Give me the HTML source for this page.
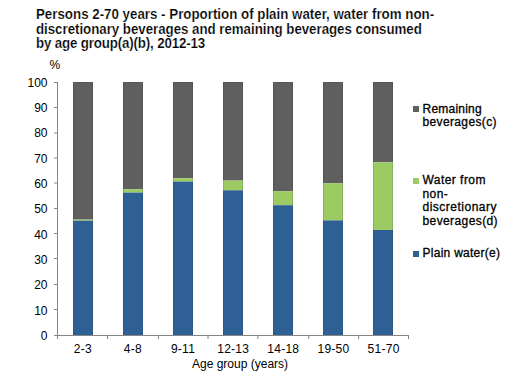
<!DOCTYPE html>
<html><head><meta charset="utf-8"><style>
html,body{margin:0;padding:0;background:#fff;width:507px;height:376px;overflow:hidden}
svg{display:block}
text{font-family:"Liberation Sans",sans-serif;font-size:12px;fill:#000}
.tt{font-weight:bold;font-size:13.33px;stroke:#fff;stroke-width:0.2px}
.lg{stroke:#000;stroke-width:0.3px}
.xl{letter-spacing:0.25px}
</style></head><body>
<svg width="507" height="376" viewBox="0 0 507 376">
<rect x="73" y="82.0" width="20" height="137.60" fill="#5f5f5f"/>
<rect x="73" y="219.6" width="20" height="1.10" fill="#9bcb62"/>
<rect x="73" y="220.7" width="20" height="114.80" fill="#2e6096"/>
<rect x="73" y="82.0" width="1" height="253.00" fill="#000" opacity="0.1"/>
<rect x="92" y="82.0" width="1" height="253.00" fill="#000" opacity="0.1"/>
<rect x="74" y="82.0" width="18" height="1" fill="#000" opacity="0.1"/>
<rect x="123" y="82.0" width="20" height="107.20" fill="#5f5f5f"/>
<rect x="123" y="189.2" width="20" height="3.40" fill="#9bcb62"/>
<rect x="123" y="192.6" width="20" height="142.90" fill="#2e6096"/>
<rect x="123" y="82.0" width="1" height="253.00" fill="#000" opacity="0.1"/>
<rect x="142" y="82.0" width="1" height="253.00" fill="#000" opacity="0.1"/>
<rect x="124" y="82.0" width="18" height="1" fill="#000" opacity="0.1"/>
<rect x="173" y="82.0" width="20" height="96.20" fill="#5f5f5f"/>
<rect x="173" y="178.2" width="20" height="3.40" fill="#9bcb62"/>
<rect x="173" y="181.6" width="20" height="153.90" fill="#2e6096"/>
<rect x="173" y="82.0" width="1" height="253.00" fill="#000" opacity="0.1"/>
<rect x="192" y="82.0" width="1" height="253.00" fill="#000" opacity="0.1"/>
<rect x="174" y="82.0" width="18" height="1" fill="#000" opacity="0.1"/>
<rect x="223" y="82.0" width="20" height="98.60" fill="#5f5f5f"/>
<rect x="223" y="180.6" width="20" height="9.70" fill="#9bcb62"/>
<rect x="223" y="190.3" width="20" height="145.20" fill="#2e6096"/>
<rect x="223" y="82.0" width="1" height="253.00" fill="#000" opacity="0.1"/>
<rect x="242" y="82.0" width="1" height="253.00" fill="#000" opacity="0.1"/>
<rect x="224" y="82.0" width="18" height="1" fill="#000" opacity="0.1"/>
<rect x="273" y="82.0" width="20" height="109.30" fill="#5f5f5f"/>
<rect x="273" y="191.3" width="20" height="13.90" fill="#9bcb62"/>
<rect x="273" y="205.2" width="20" height="130.30" fill="#2e6096"/>
<rect x="273" y="82.0" width="1" height="253.00" fill="#000" opacity="0.1"/>
<rect x="292" y="82.0" width="1" height="253.00" fill="#000" opacity="0.1"/>
<rect x="274" y="82.0" width="18" height="1" fill="#000" opacity="0.1"/>
<rect x="323" y="82.0" width="20" height="101.30" fill="#5f5f5f"/>
<rect x="323" y="183.3" width="20" height="37.10" fill="#9bcb62"/>
<rect x="323" y="220.4" width="20" height="115.10" fill="#2e6096"/>
<rect x="323" y="82.0" width="1" height="253.00" fill="#000" opacity="0.1"/>
<rect x="342" y="82.0" width="1" height="253.00" fill="#000" opacity="0.1"/>
<rect x="324" y="82.0" width="18" height="1" fill="#000" opacity="0.1"/>
<rect x="373" y="82.0" width="20" height="80.20" fill="#5f5f5f"/>
<rect x="373" y="162.2" width="20" height="67.80" fill="#9bcb62"/>
<rect x="373" y="230.0" width="20" height="105.50" fill="#2e6096"/>
<rect x="373" y="82.0" width="1" height="253.00" fill="#000" opacity="0.1"/>
<rect x="392" y="82.0" width="1" height="253.00" fill="#000" opacity="0.1"/>
<rect x="374" y="82.0" width="18" height="1" fill="#000" opacity="0.1"/>
<line x1="57.5" y1="82" x2="57.5" y2="339" stroke="#868686" stroke-width="1"/>
<line x1="54" y1="335.5" x2="408" y2="335.5" stroke="#868686" stroke-width="1"/>
<line x1="54" y1="335.5" x2="57" y2="335.5" stroke="#868686" stroke-width="1"/>
<line x1="54" y1="309.5" x2="57" y2="309.5" stroke="#868686" stroke-width="1"/>
<line x1="54" y1="284.5" x2="57" y2="284.5" stroke="#868686" stroke-width="1"/>
<line x1="54" y1="258.5" x2="57" y2="258.5" stroke="#868686" stroke-width="1"/>
<line x1="54" y1="233.5" x2="57" y2="233.5" stroke="#868686" stroke-width="1"/>
<line x1="54" y1="208.5" x2="57" y2="208.5" stroke="#868686" stroke-width="1"/>
<line x1="54" y1="183" x2="57" y2="183" stroke="#868686" stroke-width="1"/>
<line x1="54" y1="158" x2="57" y2="158" stroke="#868686" stroke-width="1"/>
<line x1="54" y1="133" x2="57" y2="133" stroke="#868686" stroke-width="1"/>
<line x1="54" y1="107.5" x2="57" y2="107.5" stroke="#868686" stroke-width="1"/>
<line x1="54" y1="82.5" x2="57" y2="82.5" stroke="#868686" stroke-width="1"/>
<line x1="57.5" y1="335" x2="57.5" y2="339" stroke="#868686" stroke-width="1"/>
<line x1="107.5" y1="335" x2="107.5" y2="339" stroke="#868686" stroke-width="1"/>
<line x1="158.4" y1="335" x2="158.4" y2="339" stroke="#868686" stroke-width="1"/>
<line x1="208" y1="335" x2="208" y2="339" stroke="#868686" stroke-width="1"/>
<line x1="257.9" y1="335" x2="257.9" y2="339" stroke="#868686" stroke-width="1"/>
<line x1="308.8" y1="335" x2="308.8" y2="339" stroke="#868686" stroke-width="1"/>
<line x1="358.6" y1="335" x2="358.6" y2="339" stroke="#868686" stroke-width="1"/>
<line x1="408.5" y1="335" x2="408.5" y2="339" stroke="#868686" stroke-width="1"/>
<text x="47.5" y="339.8" text-anchor="end">0</text>
<text x="47.5" y="314.5" text-anchor="end">10</text>
<text x="47.5" y="289.2" text-anchor="end">20</text>
<text x="47.5" y="263.9" text-anchor="end">30</text>
<text x="47.5" y="238.6" text-anchor="end">40</text>
<text x="47.5" y="213.3" text-anchor="end">50</text>
<text x="47.5" y="188.0" text-anchor="end">60</text>
<text x="47.5" y="162.7" text-anchor="end">70</text>
<text x="47.5" y="137.4" text-anchor="end">80</text>
<text x="47.5" y="112.1" text-anchor="end">90</text>
<text x="47.5" y="86.8" text-anchor="end">100</text>
<text x="82.8" y="353" text-anchor="middle" class="xl">2-3</text>
<text x="132.9" y="353" text-anchor="middle" class="xl">4-8</text>
<text x="183.0" y="353" text-anchor="middle" class="xl">9-11</text>
<text x="233.2" y="353" text-anchor="middle" class="xl">12-13</text>
<text x="283.3" y="353" text-anchor="middle" class="xl">14-18</text>
<text x="333.5" y="353" text-anchor="middle" class="xl">19-50</text>
<text x="383.6" y="353" text-anchor="middle" class="xl">51-70</text>
<text x="192" y="367.5">Age group (years)</text>
<text x="49.5" y="69">%</text>
<rect x="413" y="106" width="6" height="6" fill="#5f5f5f"/>
<rect x="413" y="178" width="6" height="6" fill="#9bcb62"/>
<rect x="413" y="251" width="6" height="6" fill="#2e6096"/>
<text x="422.5" y="112.8" class="lg" letter-spacing="0.22">Remaining</text>
<text x="422.5" y="126.4" class="lg" letter-spacing="0.36">beverages(c)</text>
<text x="422.5" y="184.3" class="lg" letter-spacing="0.45">Water from</text>
<text x="422.5" y="197.8" class="lg" letter-spacing="0.45">non-</text>
<text x="422.5" y="211.3" class="lg" letter-spacing="0.5">discretionary</text>
<text x="422.5" y="224.6" class="lg" letter-spacing="0.4">beverages(d)</text>
<text x="422.5" y="256.8" class="lg" letter-spacing="0.27">Plain water(e)</text>
<text x="36" y="0" class="tt" letter-spacing="0" transform="translate(0,19) scale(1,1.1)">Persons 2-70 years - Proportion of plain water, water from non-</text>
<text x="36" y="0" class="tt" letter-spacing="-0.036" transform="translate(0,34.3) scale(1,1.1)">discretionary beverages and remaining beverages consumed</text>
<text x="36" y="0" class="tt" letter-spacing="-0.154" transform="translate(0,48.3) scale(1,1.1)">by age group(a)(b), 2012-13</text>
</svg>
</body></html>
